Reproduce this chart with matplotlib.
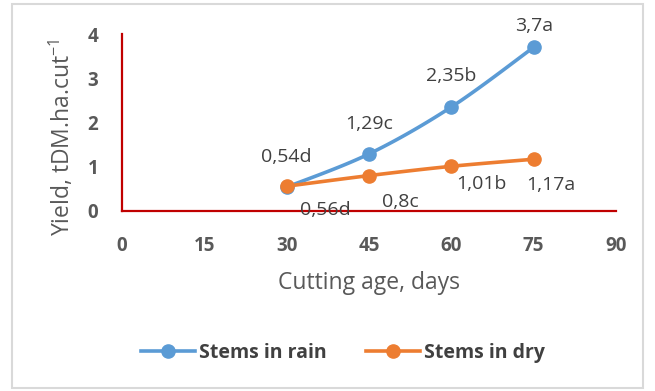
import numpy as np
import matplotlib
matplotlib.use("Agg")
import matplotlib.pyplot as plt
from matplotlib.lines import Line2D
from matplotlib.patches import Rectangle

# ---- data ----
cutting_age = [30, 45, 60, 75]
stems_rain = [0.54, 1.29, 2.35, 3.70]
stems_dry = [0.56, 0.80, 1.01, 1.17]
rain_labels = ["0,54d", "1,29c", "2,35b", "3,7a"]
dry_labels = ["0,56d", "0,8c", "1,01b", "1,17a"]
x_ticks = [0, 15, 30, 45, 60, 75, 90]
y_ticks = [0, 1, 2, 3, 4]

BLUE = "#5B9BD5"
ORANGE = "#ED7D31"
RED = "#C00000"
TXT = "#404040"
TICK = "#595959"

plt.rcParams["font.family"] = ["Open Sans", "DejaVu Sans"]
plt.rcParams["mathtext.fontset"] = "custom"
plt.rcParams["mathtext.rm"] = "Open Sans"
plt.rcParams["mathtext.it"] = "Open Sans"


def smooth(xs, ys, n=40):
    """Bezier smoothing through the points (spreadsheet-style smoothed line)."""
    P = np.column_stack([xs, ys]).astype(float)
    ext = np.vstack([P[0], P, P[-1]])
    out = []
    t = np.linspace(0, 1, n)[:, None]
    for i in range(len(P) - 1):
        p0, p1 = ext[i + 1], ext[i + 2]
        c1 = p0 + (ext[i + 2] - ext[i]) / 6.0
        c2 = p1 - (ext[i + 3] - ext[i + 1]) / 6.0
        seg = ((1 - t) ** 3) * p0 + 3 * ((1 - t) ** 2) * t * c1 + 3 * (1 - t) * t ** 2 * c2 + t ** 3 * p1
        out.append(seg if i == 0 else seg[1:])
    c = np.vstack(out)
    return c[:, 0], c[:, 1]


fig = plt.figure(figsize=(6.55, 3.91), dpi=100)
fig.patches.append(Rectangle((12 / 655, 1 - 388 / 391), 631 / 655, 384 / 391,
                             transform=fig.transFigure, fill=False,
                             edgecolor="#D9D9D9", linewidth=1.5))

ax = fig.add_axes([122 / 655, 1 - 211 / 391, 494 / 655, 177 / 391])
ax.set_xlim(0, 90)
ax.set_ylim(0, 4)

for ys, col in [(stems_rain, BLUE), (stems_dry, ORANGE)]:
    sx, sy = smooth(cutting_age, ys)
    ax.plot(sx, sy, color=col, lw=2.6, solid_capstyle="round", clip_on=False, zorder=3)
    ax.plot(cutting_age, ys, "o", color=col, ms=9.5, clip_on=False, zorder=4)

rain_off = [(0, 30), (0, 30), (0, 31), (0, 21)]
dry_off = [(39, -24), (31, -26), (30, -18), (17, -26)]
for x, y, s, o in zip(cutting_age, stems_rain, rain_labels, rain_off):
    ax.annotate(s, (x, y), xytext=o, textcoords="offset pixels", ha="center",
                va="center", fontsize=14, color=TXT, zorder=5, annotation_clip=False)
for x, y, s, o in zip(cutting_age, stems_dry, dry_labels, dry_off):
    ax.annotate(s, (x, y), xytext=o, textcoords="offset pixels", ha="center",
                va="center", fontsize=14, color=TXT, zorder=5, annotation_clip=False)

for side in ["top", "right"]:
    ax.spines[side].set_visible(False)
for side in ["left", "bottom"]:
    ax.spines[side].set_color(RED)
    ax.spines[side].set_linewidth(1.6)

ax.set_xticks(x_ticks)
ax.set_yticks(y_ticks)
ax.tick_params(length=0, labelsize=13.5, labelcolor=TICK)
ax.tick_params(axis="x", pad=18)
ax.tick_params(axis="y", pad=17)
for lab in ax.get_xticklabels() + ax.get_yticklabels():
    lab.set_fontweight("bold")

fig.text(369 / 655, 1 - 283 / 391, "Cutting age, days", ha="center", va="center",
         fontsize=16.5, color=TICK)
fig.text(62 / 655, 1 - 137 / 391, r"Yield, tDM.ha.cut$^{\mathregular{-1}}$", ha="center",
         va="center", rotation=90, fontsize=16.5, color=TICK)

handles = [Line2D([], [], color=BLUE, lw=2.6, marker="o", ms=9.5),
           Line2D([], [], color=ORANGE, lw=2.6, marker="o", ms=9.5)]
leg = fig.legend(handles, ["Stems in rain", "Stems in dry"], ncol=2, frameon=False,
                 loc="center", bbox_to_anchor=(343 / 655, 1 - 353 / 391),
                 handlelength=2.8, handletextpad=0.2, columnspacing=2.0,
                 prop={"size": 14, "weight": "bold"})
for t in leg.get_texts():
    t.set_color(TXT)

fig.savefig("out.png", dpi=100)
